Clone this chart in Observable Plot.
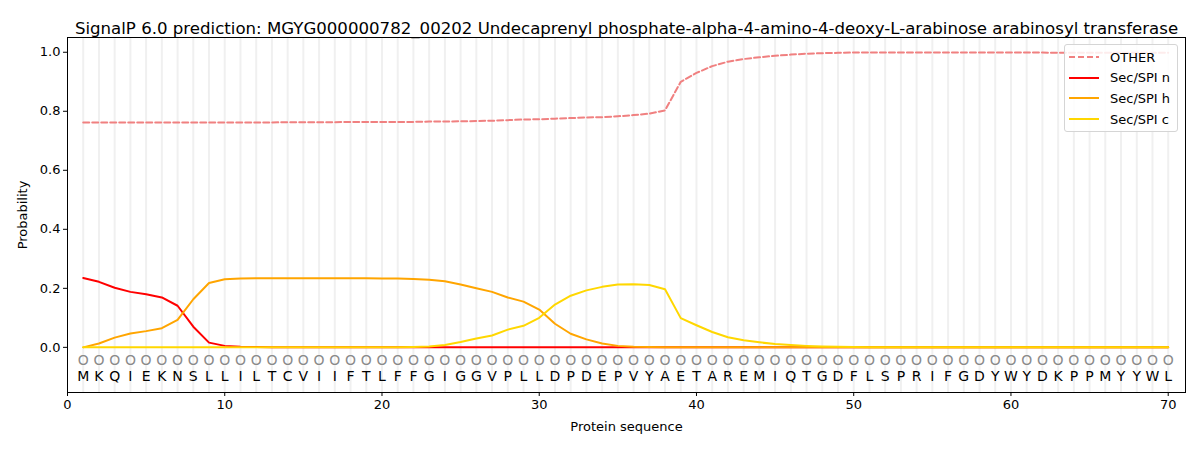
<!DOCTYPE html>
<html>
<head>
<meta charset="utf-8">
<script src="https://cdn.jsdelivr.net/npm/d3@7"></script>
<script src="https://cdn.jsdelivr.net/npm/@observablehq/plot@0.6"></script>
<style>
  body { margin: 0; background: #fff; font-family: "DejaVu Sans", sans-serif; }
  #wrap { position: relative; width: 1200px; height: 450px; }
  #legend { position: absolute; left: 1064px; top: 44px; width: 114px; height: 88px;
    border: 1px solid #d5d5d5; border-radius: 3px; background: rgba(255,255,255,0.85);
    font-size: 13px; color: #000; box-sizing: border-box; padding-top: 2px; }
  .row { display: flex; align-items: center; height: 20.6px; padding-left: 4px; }
  .row svg { margin-right: 11px; }
</style>
</head>
<body>
<div id="wrap"></div>
<script>
const sequence = "MKQIEKNSLLILTCVIIFTLFFGIGGVPLLDPDEPVYAETAREMIQTGDFLSPRIFGDYWYDKPPMYYWL".split("");
const positions = sequence.map((_, i) => i + 1);

const other = [0.762,0.762,0.762,0.762,0.762,0.762,0.762,0.762,0.762,0.762,
  0.762,0.762,0.762,0.763,0.763,0.763,0.763,0.764,0.764,0.764,
  0.764,0.764,0.765,0.765,0.766,0.767,0.768,0.770,0.772,0.773,
  0.775,0.777,0.779,0.780,0.783,0.787,0.792,0.803,0.900,0.930,
  0.953,0.968,0.977,0.983,0.988,0.992,0.995,0.997,0.998,0.999,
  0.999,0.999,0.999,0.999,0.999,0.999,0.999,0.999,0.999,0.999,
  0.999,0.999,0.998,0.998,0.998,0.998,0.998,0.998,0.998,0.998];
const secN = [0.235,0.222,0.202,0.188,0.180,0.169,0.141,0.070,0.016,0.005,
  0.002,0.001,0,0,0,0,0,0,0,0,0,0,0,0,0,0,0,0,0,0,0,0,0,0,0,0,0,0,0,0,
  0,0,0,0,0,0,0,0,0,0,0,0,0,0,0,0,0,0,0,0,0,0,0,0,0,0,0,0,0,0];
const secH = [0.000,0.013,0.033,0.047,0.055,0.065,0.093,0.163,0.218,0.231,
  0.233,0.234,0.234,0.234,0.234,0.234,0.234,0.234,0.234,0.233,
  0.233,0.232,0.229,0.224,0.213,0.200,0.188,0.169,0.155,0.128,
  0.080,0.046,0.027,0.013,0.005,0.002,0.001,0,0,0,
  0,0,0,0,0,0,0,0,0,0,0,0,0,0,0,0,0,0,0,0,0,0,0,0,0,0,0,0,0,0];
const secC = [0,0,0,0,0,0,0,0,0,0,0,0,0,0,0,0,0,0,0,0,
  0,0.001,0.003,0.008,0.018,0.030,0.040,0.060,0.073,0.100,
  0.145,0.175,0.193,0.205,0.213,0.214,0.211,0.197,0.099,0.075,
  0.052,0.034,0.024,0.017,0.011,0.008,0.005,0.003,0.002,0.001,
  0,0,0,0,0,0,0,0,0,0,0,0,0,0,0,0,0,0,0,0];

const seriesNames = ["OTHER", "Sec/SPI n", "Sec/SPI h", "Sec/SPI c"];
const seriesColors = ["#f08080", "#ff0000", "#ffa500", "#ffd700"];
const seriesValues = [other, secN, secH, secC];
const xTicks = [0, 10, 20, 30, 40, 50, 60, 70];
const yTicks = [0, 0.2, 0.4, 0.6, 0.8, 1.0];
const titleText = "SignalP 6.0 prediction: MGYG000000782_00202 Undecaprenyl phosphate-alpha-4-amino-4-deoxy-L-arabinose arabinosyl transferase";

const rows = [];
seriesNames.forEach((name, s) => {
  seriesValues[s].forEach((v, i) => rows.push({series: name, pos: i + 1, p: v}));
});
const residues = sequence.map((aa, i) => ({aa, pos: i + 1}));

const lineMark = (name, color, dash) => Plot.line(rows.filter(d => d.series === name), {
  x: "pos", y: "p", stroke: color, strokeWidth: 2, strokeDasharray: dash
});

const chart = Plot.plot({
  width: 1200,
  height: 450,
  marginLeft: 67,
  marginRight: 15,
  marginTop: 37,
  marginBottom: 58,
  style: {fontFamily: "DejaVu Sans, sans-serif", fontSize: "13px", color: "#000"},
  x: {domain: [0, 71.1], ticks: xTicks},
  y: {domain: [-0.153, 1.05], ticks: yTicks},
  marks: [
    Plot.ruleX(positions, {x: d => d, stroke: "#f0f0f0", strokeWidth: 2}),
    Plot.text(residues, {x: "pos", y: -0.045, text: () => "O", fill: "#8a8a8a", fontSize: 14}),
    Plot.text(residues, {x: "pos", y: -0.10, text: "aa", fill: "#000", fontSize: 14}),
    lineMark("OTHER", seriesColors[0], "6,3"),
    lineMark("Sec/SPI n", seriesColors[1]),
    lineMark("Sec/SPI h", seriesColors[2]),
    lineMark("Sec/SPI c", seriesColors[3]),
    Plot.frame({stroke: "#000", strokeWidth: 1}),
    Plot.axisX({ticks: xTicks, tickSize: 4, tickPadding: 3, fontSize: 13,
      label: "Protein sequence", labelAnchor: "center", labelArrow: "none", labelOffset: 38}),
    Plot.axisY({ticks: yTicks, tickSize: 4, tickPadding: 3, fontSize: 13, tickFormat: d3.format(".1f"),
      label: "Probability", labelAnchor: "center", labelArrow: "none", labelOffset: 50}),
    Plot.text([titleText], {frameAnchor: "top", dy: -15, text: d => d, fontSize: 16.6, fill: "#000"})
  ]
});

const wrap = document.getElementById("wrap");
wrap.appendChild(chart);

const legend = document.createElement("div");
legend.id = "legend";
seriesNames.forEach((name, s) => {
  const row = document.createElement("div");
  row.className = "row";
  const dash = s === 0 ? 'stroke-dasharray="6,3"' : "";
  row.innerHTML = `<svg width="30" height="10"><line x1="0" y1="5" x2="30" y2="5" stroke="${seriesColors[s]}" stroke-width="2" ${dash}/></svg><span>${name}</span>`;
  legend.appendChild(row);
});
wrap.appendChild(legend);
</script>
</body>
</html>
